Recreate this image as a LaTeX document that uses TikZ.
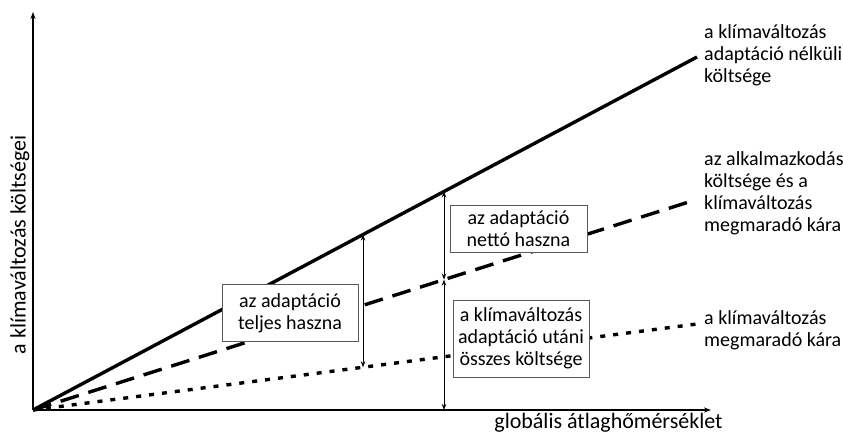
\documentclass[tikz,border=0pt]{standalone}
\usepackage{fontspec}
\setmainfont{Carlito}
\usetikzlibrary{arrows.meta,positioning}

\begin{document}
\begin{tikzpicture}[x=1pt,y=1pt,
  txt/.style={font=\fontsize{20}{22}\selectfont},
  axlbl/.style={font=\fontsize{22}{24}\selectfont,inner sep=0pt},
  box/.style={txt,draw=black!65,line width=0.8pt,fill=white,align=center,inner sep=0pt},
  lbl/.style={txt,align=left,anchor=north west,inner sep=0pt},
  gap/.style={{Stealth[length=6pt,width=4.5pt]}-{Stealth[length=6pt,width=4.5pt]},line width=0.9pt},
  curve/.style={line width=3.4pt}]

\useasboundingbox (-33,-23) rectangle (810,410);

% Axes
\coordinate (O) at (0,0);
\coordinate (ytop) at (0,398);
\coordinate (xend) at (678,0);
\draw[line width=1.3pt,-{Stealth[length=7pt,width=5pt]}] (O) -- (ytop);
\draw[line width=1.3pt,-{Stealth[length=7pt,width=5pt]}] (O) -- (xend);

\node[axlbl,rotate=90] (ylab) at (-13,165) {a klímaváltozás költségei};
\node[axlbl] (xlab) at (575.5,-13) {globális átlaghőmérséklet};

% Cost lines
\coordinate (full) at (664,353);
\coordinate (adapt) at (662,210);
\coordinate (resid) at (664,86);
\draw[curve] (O) -- (full);
\draw[curve,dash pattern=on 19pt off 10pt] (O) -- (adapt);
\draw[curve,dash pattern=on 5pt off 8pt] (O) -- (resid);

% Benefit arrows
\coordinate (a1) at (330,175.4);
\coordinate (a2) at (330,42.7);
\coordinate (b1) at (411,218.5);
\coordinate (b2) at (411,130.4);
\coordinate (b3) at (411,0);
\draw[gap] (a1) -- (a2);
\draw[gap] (b1) -- (b2);
\draw[gap] (b2) -- (b3);

% Boxes
\node[box,minimum width=136pt,minimum height=57pt] (teljes) at (257,97) {az adaptáció\\teljes haszna};
\node[box,minimum width=137pt,minimum height=47pt] (netto) at (485.5,181.5) {az adaptáció\\nettó haszna};
\node[box,minimum width=136pt,minimum height=77pt] (osszes) at (488,71.5) {a klímaváltozás\\adaptáció utáni\\összes költsége};

% Line labels
\node[lbl] (lfull) at (671,386) {a klímaváltozás\\adaptáció nélküli\\költsége};
\node[lbl] (ladapt) at (671,259) {az alkalmazkodás\\költsége és a\\klímaváltozás\\megmaradó kára};
\node[lbl] (lresid) at (671,100) {a klímaváltozás\\megmaradó kára};

\end{tikzpicture}
\end{document}
